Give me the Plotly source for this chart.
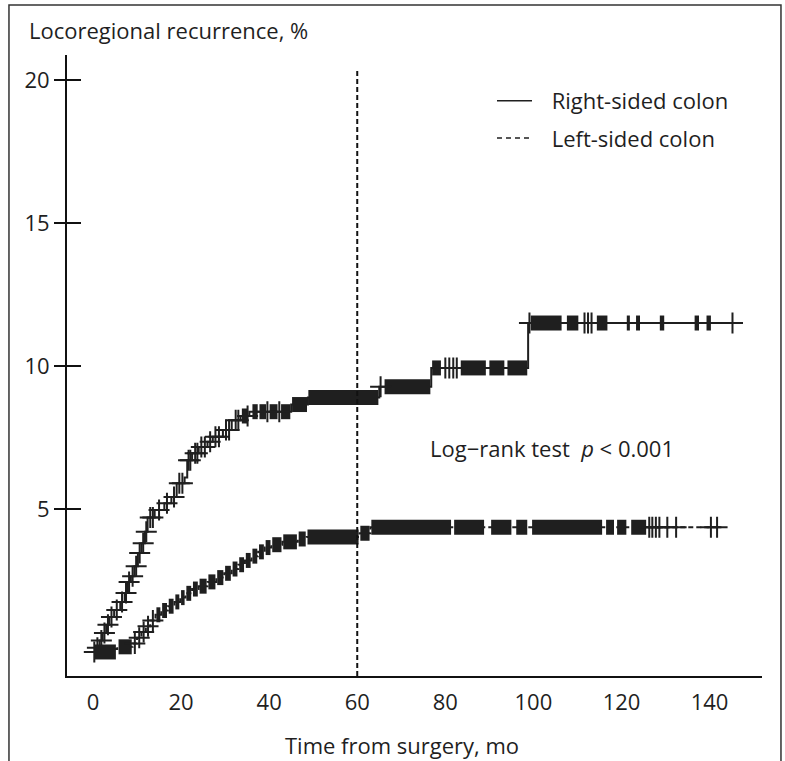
import numpy as np
import plotly.graph_objects as go

# ---------------- data ----------------
# Right-sided colon: step times (months) and cumulative locoregional recurrence (%)
right_times = [0, 0.6, 1.5, 2.2, 3.0, 3.7, 4.8, 6.2, 7.2, 7.9, 8.6, 9.4, 10.2, 11.0, 11.8,
               12.4, 14.0, 16.2, 17.8, 19.0, 20.8, 21.4, 22.5, 24.0, 26.0, 27.2, 29.5, 31.5,
               33.5, 35.5, 45.0, 48.8, 65.0, 76.8, 98.8]
right_values = [0, 0.15, 0.4, 0.66, 0.95, 1.22, 1.47, 1.75, 2.06, 2.45, 2.65, 3.0, 3.46, 3.8,
                4.2, 4.7, 4.96, 5.2, 5.42, 5.9, 6.1, 6.7, 6.95, 7.17, 7.35, 7.52, 7.76, 8.1,
                8.25, 8.4, 8.65, 8.9, 9.27, 9.93, 11.5]
right_end = 145.5
# isolated censored observations
right_censor = [0.3, 1.0, 1.9, 2.6, 3.4, 4.2, 5.4, 6.6, 7.5, 8.2, 9.0, 9.8, 10.6, 11.4, 12.1,
                13.0, 13.6, 15.0, 16.8, 18.4, 19.6, 20.3, 21.7, 22.1, 23.2, 23.7, 24.6, 25.4,
                26.6, 27.8, 28.6, 30.2, 30.9, 32.4, 33.0, 35.1, 39.6, 42.3, 65.3, 80.0, 80.9,
                81.8, 82.6, 99.1, 111.6, 112.4, 113.2, 145.2]
# stretches of densely packed censored observations (start, end)
right_censor_runs = [(33.8, 35.2), (36.2, 37.4), (37.8, 39.3), (40.1, 41.9), (42.7, 44.8),
                     (45.2, 48.6), (48.9, 64.8), (66.2, 76.6), (77.0, 79.0), (83.5, 89.2),
                     (90.0, 93.4), (94.1, 98.6), (99.4, 106.4), (107.6, 110.2), (114.4, 116.8),
                     (121.2, 121.9), (123.3, 124.2), (128.7, 129.7), (136.6, 137.6),
                     (139.3, 140.3)]

# Left-sided colon
left_times = [0, 0.8, 5.5, 9.0, 10.0, 11.0, 12.0, 13.0, 14.2, 15.5, 17.0, 18.5, 19.8, 21.0,
              22.5, 24.0, 26.0, 28.0, 29.8, 31.5, 33.0, 34.5, 36.0, 37.5, 39.0, 40.5, 43.0,
              46.5, 48.5, 60.5, 63.0]
left_values = [0, 0.1, 0.18, 0.3, 0.5, 0.7, 0.9, 1.1, 1.3, 1.45, 1.6, 1.75, 1.9, 2.05, 2.2,
               2.3, 2.45, 2.6, 2.75, 2.9, 3.05, 3.2, 3.35, 3.5, 3.65, 3.75, 3.85, 3.95, 4.02,
               4.15, 4.36]
left_end = 142.0
left_censor = [9.5, 10.5, 11.5, 12.5, 13.6, 126.3, 127.0, 127.8, 128.6, 130.4, 132.4,
               140.3, 141.7]
left_censor_runs = [(0.4, 5.2), (5.8, 8.8), (14.4, 15.3), (15.7, 16.8), (17.2, 18.3),
                    (18.7, 19.6), (20.0, 20.8), (21.2, 22.3), (22.7, 23.8), (24.2, 25.8),
                    (26.2, 27.8), (28.2, 29.6), (30.0, 31.3), (31.7, 32.8), (33.2, 34.3),
                    (34.7, 35.8), (36.2, 37.3), (37.7, 38.8), (39.2, 40.3), (40.7, 42.8),
                    (43.2, 46.3), (46.7, 48.3), (48.7, 60.3), (60.7, 62.8), (63.2, 81.3),
                    (82.0, 88.8), (90.4, 95.0), (96.1, 98.6), (99.7, 115.6), (116.5, 118.3),
                    (119.0, 121.1), (122.2, 125.6)]

series_names = ["Right-sided colon", "Left-sided colon"]
landmark_month = 60
x_ticks = [0, 20, 40, 60, 80, 100, 120, 140]
y_ticks = [5, 10, 15, 20]
x_title = "Time from surgery, mo"
y_title = "Locoregional recurrence, %"
test_text = "Log\u2212rank test  <i>p</i> < 0.001"

# ---------------- styling ----------------
INK = "#1f1f1f"
FONT = "Open Sans"
FS = 22
X_RANGE = [-5.9, 151.9]
Y_RANGE = [-0.84, 20.87]
LEGEND_PAD = "\u2002\u2009"   # visual gap between legend sample and label


def level_at(times, values, t):
    i = int(np.searchsorted(np.asarray(times), t, side="right")) - 1
    return values[max(i, 0)]


def add_group(fig, times, values, end, censor, runs, dash):
    # step curve
    fig.add_trace(go.Scatter(
        x=list(times) + [end], y=list(values) + [values[-1]],
        mode="lines", line=dict(shape="hv", color=INK, width=2, dash=dash),
        showlegend=False, hoverinfo="skip"))
    # dense censoring stretches
    bx, by = [], []
    for s, e in runs:
        lv = level_at(times, values, s)
        bx += [s, e, None]
        by += [lv, lv, None]
    fig.add_trace(go.Scatter(
        x=bx, y=by, mode="lines", line=dict(color=INK, width=15),
        showlegend=False, hoverinfo="skip"))
    # individual censor marks
    fig.add_trace(go.Scatter(
        x=censor, y=[level_at(times, values, t) for t in censor],
        mode="markers",
        marker=dict(symbol="cross-thin", size=15, line=dict(color=INK, width=2)),
        showlegend=False, hoverinfo="skip"))


fig = go.Figure()
add_group(fig, right_times, right_values, right_end, right_censor, right_censor_runs, "solid")
add_group(fig, left_times, left_values, left_end, left_censor, left_censor_runs, "5px,3px")

# legend entries
fig.add_trace(go.Scatter(x=[None], y=[None], mode="lines", name=LEGEND_PAD + series_names[0],
                         line=dict(color=INK, width=1.5), legend="legend"))
fig.add_trace(go.Scatter(x=[None], y=[None], mode="lines", name=LEGEND_PAD + series_names[1],
                         line=dict(color=INK, width=1.5, dash="5px,4px"), legend="legend2"))

# overlay axis that draws the inner half of the y tick crosses
fig.add_trace(go.Scatter(x=[None], y=[None], yaxis="y2", showlegend=False))

fig.add_shape(type="line", xref="x", yref="y", x0=landmark_month, x1=landmark_month,
              y0=Y_RANGE[0], y1=20.4, line=dict(color="#111", width=2, dash="5px,3px"))

# outer frame around the figure
fig.add_shape(type="rect", xref="paper", yref="paper", x0=-0.0835, x1=1.0273,
              y0=-0.15, y1=1.0805, line=dict(color="#333", width=1.5), layer="below")

fig.add_annotation(x=104.3, y=7.13, xref="x", yref="y", text=test_text, showarrow=False,
                   font=dict(size=FS, color=INK, family=FONT))
fig.add_annotation(x=-0.058, y=1.040, xref="paper", yref="paper", text=y_title,
                   showarrow=False, xanchor="left", yanchor="middle",
                   font=dict(size=FS, color=INK, family=FONT))
fig.add_annotation(x=0.482, y=-0.111, xref="paper", yref="paper", text=x_title,
                   showarrow=False, xanchor="center", yanchor="middle",
                   font=dict(size=FS, color=INK, family=FONT))

legend_common = dict(bgcolor="rgba(0,0,0,0)", borderwidth=0, xanchor="left",
                     yanchor="middle", itemwidth=35, font=dict(size=FS, color=INK, family=FONT))

fig.update_layout(
    width=785, height=761,
    margin=dict(l=67, r=23, t=55, b=85),
    paper_bgcolor="white", plot_bgcolor="white",
    font=dict(family=FONT, color=INK, size=FS),
    legend=dict(x=0.6115, y=0.926, **legend_common),
    legend2=dict(x=0.6115, y=0.866, **legend_common),
    xaxis=dict(range=X_RANGE, tickvals=x_ticks, showgrid=False, zeroline=False,
               showline=True, linecolor="#111", linewidth=2, ticks="",
               ticklabelstandoff=6, tickfont=dict(size=FS, color=INK, family=FONT)),
    yaxis=dict(range=Y_RANGE, tickvals=y_ticks, showgrid=False, zeroline=False,
               showline=True, linecolor="#111", linewidth=2, ticks="outside",
               ticklen=11, tickwidth=1.5, tickcolor="#111",
               tickfont=dict(size=FS, color=INK, family=FONT)),
    yaxis2=dict(range=Y_RANGE, tickvals=y_ticks, overlaying="y", side="left",
                showgrid=False, zeroline=False, showline=False, ticks="inside",
                ticklen=14, tickwidth=1.5, tickcolor="#111", showticklabels=False),
)

fig.write_html("out.html")
